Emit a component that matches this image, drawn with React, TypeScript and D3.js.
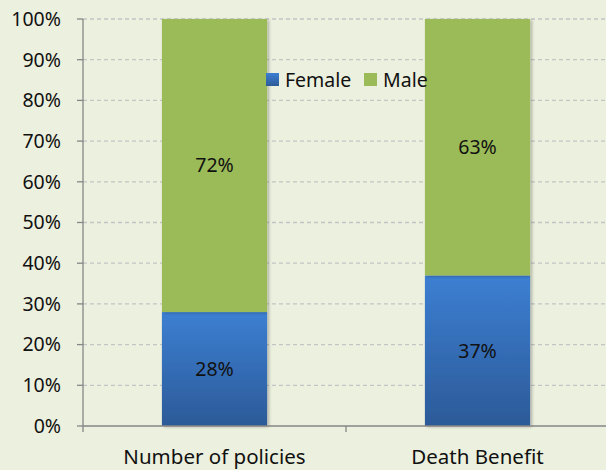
import * as React from 'react';
import * as d3 from 'd3';

const categories = ['Number of policies', 'Death Benefit'];
const female = [28, 37];
const male = [72, 63];
const seriesNames = ['Female', 'Male'];
const yTicks = [0, 10, 20, 30, 40, 50, 60, 70, 80, 90, 100];

const W = 606;
const H = 470;
const font = "'Noto Sans', 'Open Sans', sans-serif";
const fs = 19.5;

const App: React.FC = () => {
    const x = d3.scaleBand().domain(categories).range([83, 609]).paddingInner(0.6).paddingOuter(0.3);
    const y = d3.scaleLinear().domain([0, 100]).range([426, 19]);

    const stacked = d3.stack<any>().keys(seriesNames)(
        categories.map((c, i) => ({ cat: c, Female: female[i], Male: male[i] }))
    );
    const fills: Record<string, string> = { Female: 'url(#blueGrad)', Male: '#9BBB59' };

    return (
        <div style={{ position: 'fixed', top: 0, left: 0, width: W, height: H, overflow: 'hidden' }}>
            <svg width={W} height={H} style={{ display: 'block', fontFamily: font }}>
                <defs>
                    <linearGradient id="blueGrad" x1="0" y1="0" x2="0" y2="1">
                        <stop offset="0%" stopColor="#3C7FD2" />
                        <stop offset="100%" stopColor="#2C5A98" />
                    </linearGradient>
                    <filter id="shadow" x="-10%" y="-10%" width="130%" height="120%">
                        <feDropShadow dx="2" dy="1" stdDeviation="1.5" floodColor="#000" floodOpacity="0.25" />
                    </filter>
                </defs>
                <rect width={W} height={H} fill="#ECF0DE" />

                {/* gridlines */}
                {yTicks.filter(t => t > 0).map(t => (
                    <line key={t} x1={83} x2={W} y1={y(t)} y2={y(t)}
                        stroke="#C4C4C4" strokeWidth={1.3} strokeDasharray="4,3" />
                ))}

                {/* bars */}
                {stacked.map(s => (
                    <g key={s.key} filter="url(#shadow)">
                        {s.map((d, i) => (
                            <rect key={i} x={x(categories[i])} width={x.bandwidth()}
                                y={y(d[1])} height={y(d[0]) - y(d[1])} fill={fills[s.key]} />
                        ))}
                    </g>
                ))}

                {/* value labels */}
                {stacked.map(s => s.map((d, i) => (
                    <text key={s.key + i} x={(x(categories[i]) as number) + x.bandwidth() / 2}
                        y={y((d[0] + d[1]) / 2)} dy="0.35em" textAnchor="middle"
                        fontSize={fs} fill="#111">
                        {`${d[1] - d[0]}%`}
                    </text>
                )))}

                {/* y axis */}
                <line x1={83} x2={83} y1={y(100)} y2={y(0)} stroke="#868686" strokeWidth={1.3} />
                {yTicks.map(t => (
                    <g key={t}>
                        <line x1={77} x2={83} y1={y(t)} y2={y(t)} stroke="#868686" strokeWidth={1.3} />
                        <text x={61} y={y(t)} dy="0.35em" textAnchor="end" fontSize={fs} fill="#111">{t}%</text>
                    </g>
                ))}

                {/* x axis */}
                <line x1={83} x2={W} y1={y(0)} y2={y(0)} stroke="#868686" strokeWidth={1.3} />
                {[83, 346].map(px => (
                    <line key={px} x1={px} x2={px} y1={y(0)} y2={y(0) + 6} stroke="#868686" strokeWidth={1.3} />
                ))}
                {categories.map(c => (
                    <text key={c} x={(x(c) as number) + x.bandwidth() / 2} y={464}
                        textAnchor="middle" fontSize={20.5} fill="#111">{c}</text>
                ))}

                {/* legend */}
                <g>
                    <rect x={266} y={73} width={13} height={13} fill="url(#blueGrad)" />
                    <text x={285} y={80} dy="0.35em" fontSize={fs} fill="#111">Female</text>
                    <rect x={364} y={73} width={13} height={13} fill="#9BBB59" />
                    <text x={383} y={80} dy="0.35em" fontSize={fs} fill="#111">Male</text>
                </g>
            </svg>
        </div>
    );
};

export default App;
